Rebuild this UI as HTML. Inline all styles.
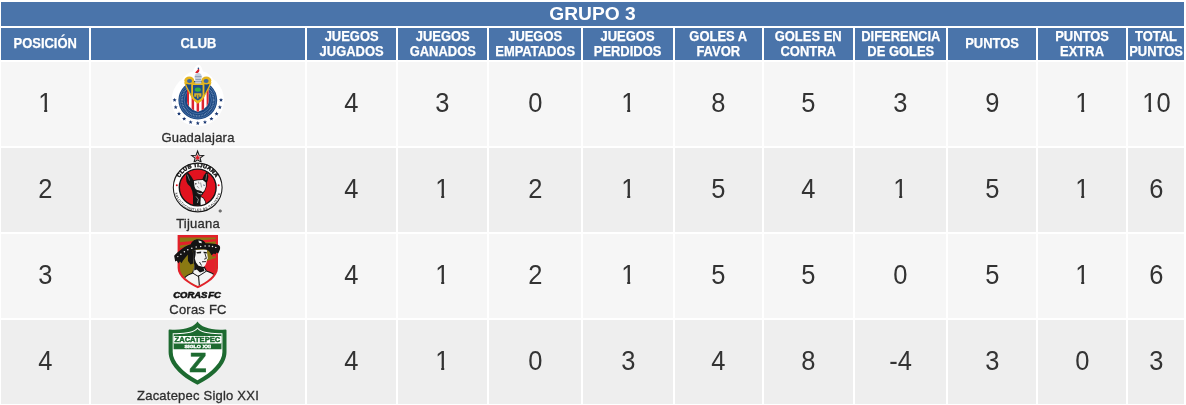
<!DOCTYPE html>
<html lang="es"><head><meta charset="utf-8"><title>GRUPO 3</title>
<style>
html,body{margin:0;padding:0;background:#fff;}
body{width:1186px;height:405px;position:relative;overflow:hidden;font-family:"Liberation Sans",sans-serif;}
.c{position:absolute;box-sizing:border-box;text-align:center;overflow:hidden;}
.t{background:#4a74aa;color:#fff;font-weight:bold;font-size:19.2px;line-height:24px;left:1px;top:2px;width:1183px;height:24px;}
.h{background:#4a74aa;color:#fff;font-weight:bold;font-size:14px;line-height:15px;top:28px;height:32px;display:flex;align-items:center;justify-content:center;}
.h span{display:block;transform:scaleX(0.925);white-space:nowrap;position:relative;top:-0.5px;-webkit-text-stroke:0.25px #fff;}
.d{color:#333;font-size:26px;display:flex;align-items:center;justify-content:center;}
.r0{background:#f6f6f6;}
.r1{background:#eeeeee;}
.n{position:absolute;left:0;right:0;font-size:13px;line-height:15px;color:#2e2e2e;text-align:center;white-space:nowrap;letter-spacing:0.22px;-webkit-text-stroke:0.3px #2e2e2e;}
.d>span{position:relative;top:-2px;display:block;transform:scale(0.98,1.06);}
.o{display:inline-block;clip-path:polygon(0 0,100% 0,100% 70%,64% 70%,64% 100%,42.5% 100%,42.5% 70%,0 70%);}
svg{position:absolute;display:block;}
</style></head><body>
<div class="c t">GRUPO 3</div>
<div class="c h" style="left:1px;width:88px"><span>POSICIÓN</span></div>
<div class="c h" style="left:91px;width:214px"><span>CLUB</span></div>
<div class="c h" style="left:307px;width:89px"><span>JUEGOS<br>JUGADOS</span></div>
<div class="c h" style="left:398px;width:89px"><span>JUEGOS<br>GANADOS</span></div>
<div class="c h" style="left:489px;width:92px"><span>JUEGOS<br>EMPATADOS</span></div>
<div class="c h" style="left:583px;width:90px"><span>JUEGOS<br>PERDIDOS</span></div>
<div class="c h" style="left:675px;width:87px"><span>GOLES A<br>FAVOR</span></div>
<div class="c h" style="left:764px;width:89px"><span>GOLES EN<br>CONTRA</span></div>
<div class="c h" style="left:855px;width:91px"><span>DIFERENCIA<br>DE GOLES</span></div>
<div class="c h" style="left:948px;width:88px"><span>PUNTOS</span></div>
<div class="c h" style="left:1038px;width:88px"><span>PUNTOS<br>EXTRA</span></div>
<div class="c h" style="left:1128px;width:56px"><span>TOTAL<br>PUNTOS</span></div>
<div class="c d r0" style="left:1px;top:62px;width:88px;height:84px"><span><span class="o">1</span></span></div>
<div class="c r0" style="left:91px;top:62px;width:214px;height:84px"><svg width="214" height="84" viewBox="91 62 214 84" style="left:0;top:0">
<circle cx="197.8" cy="100.1" r="26.2" fill="#fff"/>
<path d="M180.5,86 C182,76 188,72.5 193,71.5 C194.5,67 196.5,64.8 198.5,64.8 C200.5,64.8 201.8,67.500 203,71.5 C208,72.5 213.500,76 215.100,86 Z" fill="#fff"/>
<g fill="#1a3872"><polygon points="174.6,97.9 175.2,99.3 176.6,99.4 175.5,100.4 175.9,101.8 174.6,101.0 173.3,101.8 173.7,100.4 172.6,99.4 174.0,99.3"/><polygon points="175.7,105.1 176.3,106.5 177.8,106.6 176.6,107.6 177.0,109.0 175.7,108.2 174.5,109.0 174.8,107.6 173.7,106.6 175.2,106.5"/><polygon points="179.0,111.6 179.6,113.0 181.1,113.1 179.9,114.0 180.3,115.5 179.0,114.7 177.8,115.5 178.1,114.0 177.0,113.1 178.5,113.0"/><polygon points="184.2,116.7 184.7,118.1 186.2,118.2 185.1,119.2 185.4,120.6 184.2,119.8 182.9,120.6 183.3,119.2 182.1,118.2 183.6,118.1"/><polygon points="190.6,120.0 191.2,121.4 192.7,121.5 191.5,122.5 191.9,123.9 190.6,123.1 189.4,123.9 189.7,122.5 188.6,121.5 190.1,121.4"/><polygon points="197.8,121.1 198.4,122.5 199.8,122.6 198.7,123.6 199.1,125.0 197.8,124.2 196.5,125.0 196.9,123.6 195.8,122.6 197.2,122.5"/><polygon points="205.0,120.0 205.5,121.4 207.0,121.5 205.9,122.5 206.2,123.9 205.0,123.1 203.7,123.9 204.1,122.5 202.9,121.5 204.4,121.4"/><polygon points="211.4,116.7 212.0,118.1 213.5,118.2 212.3,119.2 212.7,120.6 211.4,119.8 210.2,120.6 210.5,119.2 209.4,118.2 210.9,118.1"/><polygon points="216.6,111.6 217.1,113.0 218.6,113.1 217.5,114.0 217.8,115.5 216.6,114.7 215.3,115.5 215.7,114.0 214.5,113.1 216.0,113.0"/><polygon points="219.9,105.1 220.4,106.5 221.9,106.6 220.8,107.6 221.1,109.0 219.9,108.2 218.6,109.0 219.0,107.6 217.8,106.6 219.3,106.5"/><polygon points="221.0,97.9 221.6,99.3 223.0,99.4 221.9,100.4 222.3,101.8 221.0,101.0 219.7,101.8 220.1,100.4 219.0,99.4 220.4,99.3"/></g>
<circle cx="197.8" cy="100.1" r="19.4" fill="#1b4680"/>
<circle cx="197.8" cy="100.1" r="18" fill="none" stroke="#5f8cc0" stroke-width="0.6"/>
<circle cx="197.8" cy="100.1" r="15.8" fill="none" stroke="#a9c2e0" stroke-width="1.7" stroke-dasharray="0.8 0.8" opacity="0.6"/>
<circle cx="197.8" cy="100.1" r="13.600" fill="none" stroke="#5f8cc0" stroke-width="0.6"/>
<clipPath id="gsh"><path d="M187,88 H208.600 V101 C208.600,106.500 203,110.200 197.8,111.800 C192.6,110.200 187,106.500 187,101 Z"/></clipPath>
<g clip-path="url(#gsh)"><rect x="186" y="86" width="24" height="27" fill="#fff"/>
<g fill="#dc2430"><rect x="186.6" y="86" width="2.4" height="27"/><rect x="191.6" y="86" width="2.5" height="27"/><rect x="196.6" y="86" width="2.5" height="27"/><rect x="201.6" y="86" width="2.5" height="27"/><rect x="206.6" y="86" width="2.4" height="27"/></g></g>
<path d="M185,83 C186.500,88 188.500,91 190.200,93.800 C192,97.500 194,100.800 197.8,103 C201.600,100.800 203.600,97.500 205.400,93.800 C207.100,91 209.100,88 210.600,83 Z" fill="#1d4a84" stroke="#e4b41e" stroke-width="1.3"/>
<ellipse cx="189.300" cy="80.500" rx="5" ry="4" fill="#e4b41e"/>
<ellipse cx="206.300" cy="80.500" rx="5" ry="4" fill="#e4b41e"/>
<ellipse cx="189.500" cy="81" rx="2.500" ry="2" fill="#3c68a2"/>
<ellipse cx="206.100" cy="81" rx="2.500" ry="2" fill="#3c68a2"/>
<path d="M191.2,83.200 H204.4 V94.8 C204.4,98.8 201,101.400 197.8,102.800 C194.600,101.400 191.2,98.8 191.2,94.8 Z" fill="#e8ba1f"/>
<path d="M193,85 H202.6 V94.6 C202.6,97.6 200.2,99.4 197.8,100.5 C195.400,99.4 193,97.6 193,94.6 Z" fill="#1f4f8c"/>
<ellipse cx="197.8" cy="89.6" rx="3" ry="2.200" fill="#35b241"/>
<path d="M194.2,93.200 H201.4 V96.8 H199.2 V94.8 H198.5 V98.600 H197.1 V94.8 H196.400 V96.8 H194.2 Z" fill="#d9b326"/>
<path d="M195.200,83.500 L195.400,79.400 C194.300,78.400 194.300,75.400 195.600,74 C196.800,72.700 199.600,72.700 200.800,74 C202.100,75.400 202.100,78.400 201,79.400 L201.300,83.500 Z" fill="#c3cddb"/>
<path d="M194.900,76.600 H201.500 M195.400,79.500 H201 M195.200,81.600 H201.300" stroke="#7a8ba8" stroke-width="0.700" fill="none"/>
<path d="M195.2,73 C195.800,71.2 197.8,70.800 198.300,68.3 C199.900,69.5 199.700,71.900 197.700,73.100 Z" fill="#d8222c"/>
<circle cx="198.4" cy="68.4" r="0.8" fill="#2a4f8c"/>
</svg><div class="n" style="top:67.5px">Guadalajara</div></div>
<div class="c d r0" style="left:307px;top:62px;width:89px;height:84px"><span>4</span></div>
<div class="c d r0" style="left:398px;top:62px;width:89px;height:84px"><span>3</span></div>
<div class="c d r0" style="left:489px;top:62px;width:92px;height:84px"><span>0</span></div>
<div class="c d r0" style="left:583px;top:62px;width:90px;height:84px"><span><span class="o">1</span></span></div>
<div class="c d r0" style="left:675px;top:62px;width:87px;height:84px"><span>8</span></div>
<div class="c d r0" style="left:764px;top:62px;width:89px;height:84px"><span>5</span></div>
<div class="c d r0" style="left:855px;top:62px;width:91px;height:84px"><span>3</span></div>
<div class="c d r0" style="left:948px;top:62px;width:88px;height:84px"><span>9</span></div>
<div class="c d r0" style="left:1038px;top:62px;width:88px;height:84px"><span><span class="o">1</span></span></div>
<div class="c d r0" style="left:1128px;top:62px;width:56px;height:84px"><span><span class="o">1</span>0</span></div>
<div class="c d r1" style="left:1px;top:148px;width:88px;height:84px"><span>2</span></div>
<div class="c r1" style="left:91px;top:148px;width:214px;height:84px"><svg width="214" height="84" viewBox="91 148 214 84" style="left:0;top:0">
<polygon points="197.6,149.5 199.7,154.5 205.0,154.9 200.9,158.4 202.2,163.6 197.6,160.8 193.0,163.6 194.3,158.4 190.2,154.9 195.5,154.5" fill="#f8f8f8"/>
<polygon points="197.6,151.1 199.1,155.2 203.5,155.4 200.1,158.1 201.2,162.3 197.6,159.9 194.0,162.3 195.1,158.1 191.7,155.4 196.1,155.2" fill="#f1f1f1" stroke="#1a1a1a" stroke-width="1.100" stroke-linejoin="miter"/>
<polygon points="197.6,154.1 198.4,156.4 200.8,156.4 198.9,157.9 199.6,160.3 197.6,158.9 195.6,160.3 196.3,157.9 194.4,156.4 196.8,156.4" fill="#e0202b"/>
<circle cx="197.7" cy="187.5" r="25.7" fill="#f7f7f7"/>
<circle cx="197.7" cy="187.5" r="24.4" fill="#fff" stroke="#1a1a1a" stroke-width="1.100"/>
<circle cx="197.7" cy="187.5" r="18.4" fill="#e1121f" stroke="#151515" stroke-width="1.400"/>
<clipPath id="tjc"><circle cx="197.7" cy="187.5" r="17.800"/></clipPath>
<g clip-path="url(#tjc)">
<path d="M186.700,172 L188.200,172.800 L191,176 L193.600,180.200 L197,179.500 L202.300,179.300 L203.800,175.600 L206.200,172.200 L207.500,171.400 L208.400,176.600 L207.700,180.400 L206.900,182.600 L206.600,186.700 L205,190.900 L202.400,194.500 L200.800,196 L203.600,197.800 L205.600,201 L206.600,206.500 L193,206.500 L193,196.100 L192.200,190.900 L190.400,186.700 L187.800,184.200 L186.400,181.600 L186,176.400 Z" fill="#141414"/>
<path d="M193.900,181 L197.600,180.300 L202.800,180.100 L205.800,182.400 L205.900,186.600 L204.400,190.500 L202.800,192.300 L200.400,190.800 L197.600,190.200 L195.600,189 L194.500,186.500 Z" fill="#f3f3f3"/>
<path d="M200.900,197 L203.300,198.600 L205,201.400 L205.800,206.500 L200.800,206.500 L200.500,201.400 Z" fill="#f6f6f6"/>
<path d="M187.400,174.600 L189.600,180.600" stroke="#cfcfcf" stroke-width="0.500" fill="none"/>
<path d="M206.800,174 L205.800,180" stroke="#cfcfcf" stroke-width="0.500" fill="none"/>
<path d="M195,183 L197,183.800 L195.600,184.800 Z" fill="#1b1b1b"/>
<path d="M203,184.600 L205,185 L204,186.200 Z" fill="#3a4a7a"/>
<path d="M196.200,190 L200,191 L203.200,192.400 L202.600,194.400 L200.400,196.200 L197.600,195 L195.800,192.600 Z" fill="#1b1b1b"/>
<path d="M197.400,192.600 L200,193.800 L202,193.600" stroke="#f1f1f1" stroke-width="0.800" fill="none"/>
<path d="M197,186 L199,188.400 M200.600,182.600 L201.600,187.400 M198.400,181.600 L199,184" stroke="#7a7a7a" stroke-width="0.7" fill="none"/>
<path d="M196,196.400 L198.400,199.400 L197.400,203" stroke="#dedede" stroke-width="0.6" fill="none"/>
</g>
<circle cx="176.800" cy="185.300" r="1" fill="#e1121f"/><circle cx="218.600" cy="185.300" r="1" fill="#e1121f"/>
<path id="tjt" d="M 177.100,187.500 A 20.600,20.600 0 0 1 218.300,187.500" fill="none"/>
<path id="tjb" d="M 174.300,187.500 A 23.400,23.400 0 0 0 221.100,187.500" fill="none"/>
<text font-family="Liberation Sans, sans-serif" font-weight="bold" font-size="5.500" fill="#1a1a1a" stroke="#1a1a1a" stroke-width="0.500" letter-spacing="0.300" word-spacing="-0.300"><textPath href="#tjt" startOffset="50%" text-anchor="middle">CLUB TIJUANA</textPath></text>
<text font-family="Liberation Sans, sans-serif" font-weight="bold" font-size="3.200" fill="#3a3a3a" letter-spacing="0.38"><textPath href="#tjb" startOffset="50%" text-anchor="middle">XOLOITZCUINTLES DE CALIENTE</textPath></text>
<circle cx="220.2" cy="211" r="1.3" fill="#777" stroke="#555" stroke-width="0.5"/>
</svg><div class="n" style="top:67.5px">Tijuana</div></div>
<div class="c d r1" style="left:307px;top:148px;width:89px;height:84px"><span>4</span></div>
<div class="c d r1" style="left:398px;top:148px;width:89px;height:84px"><span><span class="o">1</span></span></div>
<div class="c d r1" style="left:489px;top:148px;width:92px;height:84px"><span>2</span></div>
<div class="c d r1" style="left:583px;top:148px;width:90px;height:84px"><span><span class="o">1</span></span></div>
<div class="c d r1" style="left:675px;top:148px;width:87px;height:84px"><span>5</span></div>
<div class="c d r1" style="left:764px;top:148px;width:89px;height:84px"><span>4</span></div>
<div class="c d r1" style="left:855px;top:148px;width:91px;height:84px"><span><span class="o">1</span></span></div>
<div class="c d r1" style="left:948px;top:148px;width:88px;height:84px"><span>5</span></div>
<div class="c d r1" style="left:1038px;top:148px;width:88px;height:84px"><span><span class="o">1</span></span></div>
<div class="c d r1" style="left:1128px;top:148px;width:56px;height:84px"><span>6</span></div>
<div class="c d r0" style="left:1px;top:234px;width:88px;height:84px"><span>3</span></div>
<div class="c r0" style="left:91px;top:234px;width:214px;height:84px"><svg width="214" height="84" viewBox="91 234 214 84" style="left:0;top:0">
<path d="M177.600,235 H218 V268 C218,277 207,284 197.800,288.300 C188.600,284 177.600,277 177.600,268 Z" fill="#e3202a"/>
<clipPath id="crc"><path d="M179.900,237.600 H215.700 V268 C215.700,276 206,282.200 197.800,286 C189.600,282.200 179.900,276 179.900,268 Z"/></clipPath>
<g clip-path="url(#crc)">
<rect x="178" y="235" width="40" height="54" fill="#8a7912"/>
<path d="M178,242.400 L218,238.800 L218,241 L178,245.500 Z" fill="#e3202a"/>
<path d="M178,249 L190,245 L190,248 L178,253 Z" fill="#e3202a"/>
<path d="M204,262 L218,257 V290 H196 Z" fill="#e3202a"/>
<path d="M211,251 L218,248.500 V255 L212.500,257 Z" fill="#e3202a"/>
<path d="M184,279 C185.500,275.500 190,274.500 192.600,273 L194.500,267.500 L204.400,267.400 L206.400,271 C209,272 213,273 214.400,275.400 L209,284 L197.800,290 L187,283.500 Z" fill="#f4f4f4" stroke="#141414" stroke-width="1.100"/>
<path d="M198.500,275.500 L199.400,286" stroke="#141414" stroke-width="1.100" fill="none"/>
<path d="M192.600,273 L198.200,276.400 L206,271.400" stroke="#141414" stroke-width="1" fill="none"/>
</g>
<path d="M187.800,253.800 L192.500,249.500 L193.800,258 L193.400,263.600 L190.500,264.600 L188,261 Z" fill="#141414"/>
<path d="M193,250 L206.800,249.600 L207.200,253.800 L207.900,258.400 L207,259.600 L206.400,262.800 L205.200,265.600 L203.400,267 L199.500,266.800 L197.500,269 L198,273 L193.500,271.500 L194.200,265 L193.200,259 Z" fill="#f4f4f4"/>
<path d="M193,250 L195.800,250.200 L195.600,254.500 L194.800,258.500 L196,262.600 L198.500,265.800 L203.400,267 L204.400,271 L200,272.400 L196.800,269.400 L194.200,270.500 L194.200,265 L193.200,259 Z" fill="#151515"/>
<path d="M196.400,252.200 L201.200,251.600 L201,253.200 L197,253.600 Z M203.400,251.800 L206.800,252 L206.800,253.400 L203.800,253.200 Z" fill="#151515"/>
<path d="M205,253.600 L206.400,258.400 L204.200,259.200 M202,261.800 L206,261.600 M199.500,262 L201.500,265.500" stroke="#151515" stroke-width="0.900" fill="none"/>
<path d="M174.500,257.700 C173.800,255.800 174.600,255 175,254.800 C178,251.800 181.500,249.200 184.800,246.800 C187,245.600 189,244.800 190.800,244.200 C191.500,241.400 194.500,239.400 197.700,239.300 C201.200,239.300 204.400,240.800 205.600,243.300 C209,243.200 212.500,243.400 215.500,243.900 C218.400,244.400 219.900,245.600 220,246.800 C220.300,248.400 220,249.800 219.400,250.800 L218.200,253.600 L216.400,252.400 L215.500,254.200 L213.800,253.400 L211.500,255.200 L209.500,251.800 C208.600,250.800 207.600,250.100 206.600,249.800 C202,249 197,249.200 193.200,250.300 C191,251.500 189.200,253 187.800,254.800 C186,256.800 184.400,258.800 182.900,260.700 L181.600,263.200 L179.900,261.200 L178.400,263.400 L176.800,260.800 L175.200,261.400 Z" fill="#141414"/>
<g fill="#f1f1f1"><circle cx="177.800" cy="256.600" r="0.700"/><circle cx="180.900" cy="254.300" r="0.750"/><circle cx="184.400" cy="251.800" r="0.750"/><circle cx="187.800" cy="249.800" r="0.750"/><circle cx="191.800" cy="248.300" r="0.750"/><circle cx="196.200" cy="246.900" r="0.750"/><circle cx="200.700" cy="246.400" r="0.750"/><circle cx="205.100" cy="246.100" r="0.750"/><circle cx="209.100" cy="246.100" r="0.750"/><circle cx="212.500" cy="246.600" r="0.750"/><circle cx="215.800" cy="247.400" r="0.700"/></g>
<path d="M198.400,240.600 L201.400,241.200 L201.800,243.200 L199,242.800 Z" fill="#e8e8e8"/>
<text x="173.300" y="297.500" textLength="47.600" lengthAdjust="spacingAndGlyphs" word-spacing="-1.600" font-family="Liberation Sans, sans-serif" font-weight="bold" font-style="italic" font-size="9.200" fill="#141414" stroke="#141414" stroke-width="0.600">CORAS FC</text>
</svg><div class="n" style="top:67.5px">Coras FC</div></div>
<div class="c d r0" style="left:307px;top:234px;width:89px;height:84px"><span>4</span></div>
<div class="c d r0" style="left:398px;top:234px;width:89px;height:84px"><span><span class="o">1</span></span></div>
<div class="c d r0" style="left:489px;top:234px;width:92px;height:84px"><span>2</span></div>
<div class="c d r0" style="left:583px;top:234px;width:90px;height:84px"><span><span class="o">1</span></span></div>
<div class="c d r0" style="left:675px;top:234px;width:87px;height:84px"><span>5</span></div>
<div class="c d r0" style="left:764px;top:234px;width:89px;height:84px"><span>5</span></div>
<div class="c d r0" style="left:855px;top:234px;width:91px;height:84px"><span>0</span></div>
<div class="c d r0" style="left:948px;top:234px;width:88px;height:84px"><span>5</span></div>
<div class="c d r0" style="left:1038px;top:234px;width:88px;height:84px"><span><span class="o">1</span></span></div>
<div class="c d r0" style="left:1128px;top:234px;width:56px;height:84px"><span>6</span></div>
<div class="c d r1" style="left:1px;top:320px;width:88px;height:84px"><span>4</span></div>
<div class="c r1" style="left:91px;top:320px;width:214px;height:84px"><svg width="214" height="84" viewBox="91 320 214 84" style="left:0;top:0">
<path d="M197.500,321.600 C194,327 185,330.600 169.600,329.500 Q168.600,329.500 168.600,330.600 L168.600,352 C168.600,364 180,376 197.500,384.800 C215,376 226.500,364 226.500,352 L226.500,330.600 Q226.500,329.500 225.500,329.500 C210,330.600 201,327 197.500,321.600 Z" fill="#1d6a30"/>
<path d="M197.500,327.600 C194.500,331.600 186,333.600 172.700,333.200 L172.700,352 C172.700,361.600 182.500,372 197.500,380.200 C212.500,372 222.400,361.600 222.400,352 L222.400,333.200 C209,333.600 200.500,331.600 197.500,327.600 Z" fill="#fff"/>
<path d="M197.500,328.800 C194.800,332.500 186.500,334.500 173.600,334.200 L173.600,349.200 H221.500 L221.500,334.200 C208.500,334.500 200.200,332.500 197.500,328.800 Z" fill="#1d6a30"/>
<rect x="173.500" y="336" width="48.100" height="7.400" rx="0.800" fill="#fff"/>
<text x="197.400" y="341.900" text-anchor="middle" textLength="45.600" lengthAdjust="spacingAndGlyphs" font-family="Liberation Sans, sans-serif" font-weight="bold" font-size="6.900" fill="#1d6a30" stroke="#1d6a30" stroke-width="0.450">ZACATEPEC</text>
<text x="197.700" y="347.900" text-anchor="middle" textLength="26.600" lengthAdjust="spacingAndGlyphs" font-family="Liberation Sans, sans-serif" font-weight="bold" font-size="4.300" fill="#fff" stroke="#fff" stroke-width="0.350">SIGLO XXI</text>
<text x="197.950" y="371.900" text-anchor="middle" font-family="Liberation Sans, sans-serif" font-weight="bold" font-size="28.300" fill="#1d6a30" stroke="#1d6a30" stroke-width="0.600">Z</text>
</svg><div class="n" style="top:67.5px">Zacatepec Siglo XXI</div></div>
<div class="c d r1" style="left:307px;top:320px;width:89px;height:84px"><span>4</span></div>
<div class="c d r1" style="left:398px;top:320px;width:89px;height:84px"><span><span class="o">1</span></span></div>
<div class="c d r1" style="left:489px;top:320px;width:92px;height:84px"><span>0</span></div>
<div class="c d r1" style="left:583px;top:320px;width:90px;height:84px"><span>3</span></div>
<div class="c d r1" style="left:675px;top:320px;width:87px;height:84px"><span>4</span></div>
<div class="c d r1" style="left:764px;top:320px;width:89px;height:84px"><span>8</span></div>
<div class="c d r1" style="left:855px;top:320px;width:91px;height:84px"><span>-4</span></div>
<div class="c d r1" style="left:948px;top:320px;width:88px;height:84px"><span>3</span></div>
<div class="c d r1" style="left:1038px;top:320px;width:88px;height:84px"><span>0</span></div>
<div class="c d r1" style="left:1128px;top:320px;width:56px;height:84px"><span>3</span></div>
</body></html>
